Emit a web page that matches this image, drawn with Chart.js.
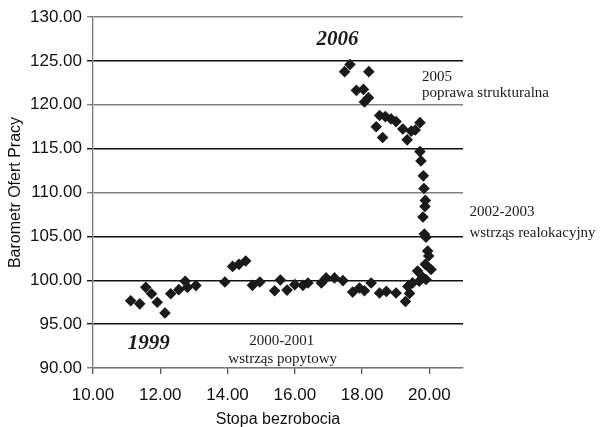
<!DOCTYPE html>
<html>
<head>
<meta charset="utf-8">
<script src="https://cdn.jsdelivr.net/npm/chart.js@4.4.1/dist/chart.umd.min.js"></script>
<style>
  html, body { margin: 0; padding: 0; background: #fff; }
  #wrap { width: 602px; height: 427px; }
</style>
</head>
<body>
<div id="wrap"><canvas id="chart" width="602" height="427"></canvas></div>
<script>
// unemployment rate (x) vs job offers barometer (y)
const unemployment = [
  11.12, 11.39, 11.57, 11.74, 11.91, 12.14, 12.31, 12.55, 12.74, 12.81, 13.06,
  13.92, 14.15, 14.34, 14.54, 14.74, 14.96, 15.40, 15.57, 15.77, 16.00, 16.24,
  16.39, 16.79, 16.93, 17.18, 17.43, 17.72, 17.92, 18.07, 18.27, 18.52, 18.72,
  19.01, 19.29, 19.36, 19.41, 19.50, 19.65, 19.70, 19.80, 19.90, 20.05, 19.88,
  19.98, 19.95, 19.90, 19.85, 19.81, 19.87, 19.88, 19.84, 19.82, 19.75, 19.72,
  19.34, 18.61, 19.72, 19.58, 19.46, 19.21, 18.42, 19.01, 18.86, 18.69, 18.52,
  18.07, 18.19, 18.04, 17.83, 18.20, 17.64, 17.48
];
const barometer = [
  97.66, 97.31, 99.19, 98.47, 97.50, 96.27, 98.47, 98.93, 99.88, 99.19, 99.39,
  99.80, 101.58, 101.81, 102.19, 99.42, 99.80, 98.81, 100.03, 98.88, 99.50, 99.42,
  99.69, 99.69, 100.27, 100.27, 99.96, 98.65, 99.11, 98.81, 99.69, 98.54, 98.73,
  98.54, 97.58, 99.30, 98.50, 99.70, 101.04, 99.90, 100.35, 100.08, 101.23, 101.81,
  102.77, 103.34, 104.90, 105.27, 107.20, 108.40, 109.10, 110.45, 111.90, 113.60, 114.66,
  116.00, 116.27, 117.96, 117.12, 117.00, 117.24, 117.50, 118.08, 118.39, 118.65, 118.77,
  120.31, 120.81, 121.75, 121.64, 123.77, 124.58, 123.77
];

const xTicks = [10, 12, 14, 16, 18, 20];
const yTicks = [90, 95, 100, 105, 110, 115, 120, 125, 130];
const grayLines = [90, 110, 120, 130];

// text labels placed in data units
const notes = [
  { text: '2006', x: 17.27, y: 127.4, align: 'center', font: 'italic bold 21px "Liberation Serif"' },
  { text: '1999', x: 11.66, y: 92.75, align: 'center', font: 'italic bold 21px "Liberation Serif"' },
  { text: '2005', x: 19.78, y: 123.2, align: 'left', font: '15px "Liberation Serif"' },
  { text: 'poprawa strukturalna', x: 19.78, y: 121.35, align: 'left', font: '15px "Liberation Serif"' },
  { text: '2002-2003', x: 21.19, y: 107.74, align: 'left', font: '15px "Liberation Serif"' },
  { text: 'wstrząs realokacyjny', x: 21.19, y: 105.43, align: 'left', font: '15px "Liberation Serif"' },
  { text: '2000-2001', x: 15.61, y: 93.09, align: 'center', font: '15px "Liberation Serif"' },
  { text: 'wstrząs popytowy', x: 15.64, y: 91.0, align: 'center', font: '15px "Liberation Serif"' }
];

const notesPlugin = {
  id: 'notes',
  afterDatasetsDraw(chart) {
    const ctx = chart.ctx;
    const xs = chart.scales.x, ys = chart.scales.y;
    ctx.save();
    ctx.fillStyle = '#1a1a1a';
    ctx.textBaseline = 'middle';
    notes.forEach(n => {
      ctx.font = n.font;
      ctx.textAlign = n.align;
      ctx.fillText(n.text, xs.getPixelForValue(n.x), ys.getPixelForValue(n.y));
    });
    ctx.restore();
  }
};

const points = unemployment.map((v, i) => ({ x: v, y: barometer[i] }));

new Chart(document.getElementById('chart'), {
  type: 'scatter',
  data: {
    datasets: [{
      data: points,
      pointStyle: 'rectRot',
      pointRadius: 5.8,
      pointBackgroundColor: '#1a1a1a',
      pointBorderColor: '#1a1a1a',
      pointBorderWidth: 0
    }]
  },
  options: {
    responsive: false,
    animation: false,
    layout: { padding: { top: 17, right: 139, left: 0, bottom: 0 } },
    plugins: { legend: { display: false }, tooltip: { enabled: false } },
    scales: {
      x: {
        type: 'linear',
        min: 10,
        max: 21,
        afterBuildTicks: s => { s.ticks = xTicks.map(v => ({ value: v })); },
        afterFit: s => { s.height = 59; },
        ticks: {
          callback: v => v.toFixed(2),
          color: '#111',
          font: { family: '"Liberation Sans"', size: 17 },
          padding: 11,
          maxRotation: 0
        },
        grid: { drawOnChartArea: false, tickLength: 6, color: '#555', lineWidth: 1.3 },
        border: { color: '#777', width: 1.3 },
        title: {
          display: true,
          text: 'Stopa bezrobocia',
          color: '#111',
          font: { family: '"Liberation Sans"', size: 16 },
          padding: { top: 4, bottom: -2 }
        }
      },
      y: {
        min: 90,
        max: 130,
        afterBuildTicks: s => { s.ticks = yTicks.map(v => ({ value: v })); },
        afterFit: s => { s.width = 93; s.paddingTop = 0; },
        ticks: {
          callback: v => v.toFixed(2),
          color: '#111',
          font: { family: '"Liberation Sans"', size: 17 },
          padding: 5
        },
        grid: {
          tickLength: 6,
          lineWidth: 1.4,
          color: c => (c.tick && grayLines.includes(c.tick.value)) ? '#808080' : '#111'
        },
        border: { color: '#777', width: 1.3 },
        title: {
          display: true,
          text: 'Barometr Ofert Pracy',
          color: '#111',
          font: { family: '"Liberation Sans"', size: 16 },
          padding: { top: 6, bottom: 4 }
        }
      }
    }
  },
  plugins: [notesPlugin]
});
</script>
</body>
</html>
